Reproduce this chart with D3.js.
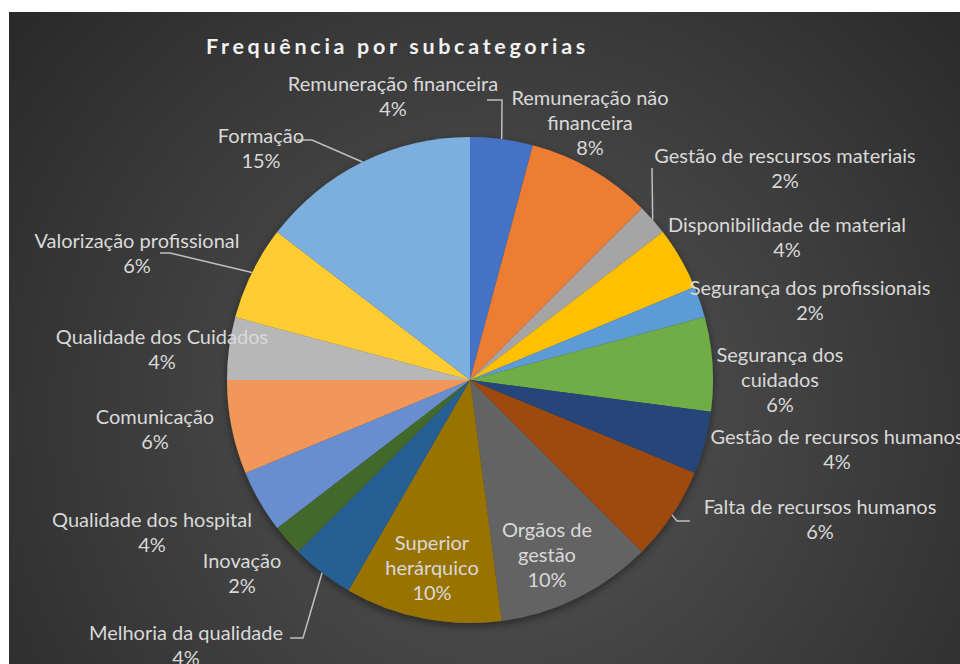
<!DOCTYPE html>
<html>
<head>
<meta charset="utf-8">
<script src="https://cdn.jsdelivr.net/npm/d3@7"></script>
<style>
  body { margin: 0; background: #ffffff; }
  svg { display: block; }
</style>
</head>
<body>
<svg id="chart" width="960" height="664"></svg>
<script>
// Subcategories, clockwise from 12 o'clock
const categories = [
  "Remuneração financeira",
  "Remuneração não financeira",
  "Gestão de rescursos materiais",
  "Disponibilidade de material",
  "Segurança dos profissionais",
  "Segurança dos cuidados",
  "Gestão de recursos humanos",
  "Falta de recursos humanos",
  "Orgãos de gestão",
  "Superior herárquico",
  "Melhoria da qualidade",
  "Inovação",
  "Qualidade dos hospital",
  "Comunicação",
  "Qualidade dos Cuidados",
  "Valorização profissional",
  "Formação"
];

// Number of mentions per subcategory
const counts = [2, 4, 1, 2, 1, 3, 2, 3, 5, 5, 2, 1, 2, 3, 2, 3, 7];

// How each category name is broken over lines in its label
const labelLines = [
  ["Remuneração financeira"],
  ["Remuneração não", "financeira"],
  ["Gestão de rescursos materiais"],
  ["Disponibilidade de material"],
  ["Segurança dos profissionais"],
  ["Segurança dos", "cuidados"],
  ["Gestão de recursos humanos"],
  ["Falta de recursos humanos"],
  ["Orgãos de", "gestão"],
  ["Superior", "herárquico"],
  ["Melhoria da qualidade"],
  ["Inovação"],
  ["Qualidade dos hospital"],
  ["Comunicação"],
  ["Qualidade dos Cuidados"],
  ["Valorização profissional"],
  ["Formação"]
];

const sliceColors = [
  "#4472C4", "#ED7D31", "#A5A5A5", "#FFC000", "#5B9BD5", "#70AD47",
  "#264478", "#9E480E", "#636363", "#997300", "#255E91", "#43682B",
  "#698ED0", "#F1975A", "#B7B7B7", "#FFCD33", "#7CAFDD"
];

const chartTitle = "Frequência por subcategorias";

// ---- layout ----
const W = 960, H = 664;
const cx = 470, cy = 380, R = 243;

// centre of each label block, relative to the pie centre
const labelOffsets = [
  [-77, -284], [120, -257], [315, -212], [317, -142.5], [340, -79.5],
  [310, 0], [367, 69.5], [350, 139.5], [77, 175], [-38, 188],
  [-284, 265.5], [-228, 193.5], [-318, 152.5], [-315, 49], [-308, -30.5],
  [-333, -126.5], [-209, -231.5]
];

// leader line bends (relative to pie centre); the line then runs to the slice edge
const leaderBends = {
  0: [[32, -280], [17, -280]],
  2: [[182, -212]],
  7: [[207, 141], [220, 141]],
  10: [[-167, 258], [-180, 258]],
  15: [[-300, -127], [-310, -127]],
  16: [[-158, -240], [-173, -240]]
};

const lineH = 25;
const fontFamily = "Lato, 'Open Sans', sans-serif";

const svg = d3.select("#chart");
const defs = svg.append("defs");

const bg = defs.append("radialGradient")
  .attr("id", "bgGrad")
  .attr("gradientUnits", "userSpaceOnUse")
  .attr("cx", 500).attr("cy", 420).attr("r", 620);
bg.append("stop").attr("offset", "0%").attr("stop-color", "#565656");
bg.append("stop").attr("offset", "100%").attr("stop-color", "#2a2a2a");

const shadow = defs.append("filter")
  .attr("id", "pieShadow")
  .attr("x", "-20%").attr("y", "-20%").attr("width", "140%").attr("height", "140%");
shadow.append("feDropShadow")
  .attr("dx", 0).attr("dy", 3).attr("stdDeviation", 4)
  .attr("flood-color", "#000").attr("flood-opacity", 0.45);

// chart area background
svg.append("rect")
  .attr("x", 9).attr("y", 12)
  .attr("width", W - 9).attr("height", H - 12)
  .attr("fill", "url(#bgGrad)");

// title
svg.append("text")
  .attr("x", 206).attr("y", 54)
  .attr("font-family", fontFamily)
  .attr("font-weight", "bold")
  .attr("font-size", 21.5)
  .attr("letter-spacing", 3.7)
  .attr("fill", "#f2f2f2")
  .text(chartTitle);

const total = d3.sum(counts);
const fmtPct = d3.format(".0%");

const pie = d3.pie().sort(null).value(d => d)(counts);
const arc = d3.arc().innerRadius(0).outerRadius(R);

const g = svg.append("g").attr("transform", `translate(${cx},${cy})`);

g.append("g")
  .attr("filter", "url(#pieShadow)")
  .selectAll("path")
  .data(pie)
  .join("path")
  .attr("d", arc)
  .attr("fill", (d, i) => sliceColors[i]);

// leader lines
const edgePoint = d => {
  const a = (d.startAngle + d.endAngle) / 2;
  return [R * Math.sin(a), -R * Math.cos(a)];
};
Object.entries(leaderBends).forEach(([k, bends]) => {
  const i = +k;
  const pts = [edgePoint(pie[i]), ...bends];
  g.append("path")
    .attr("d", d3.line()(pts))
    .attr("fill", "none")
    .attr("stroke", "#bfbfbf")
    .attr("stroke-width", 1.5);
});

// data labels
const labels = g.append("g")
  .attr("font-family", fontFamily)
  .attr("font-size", 20)
  .attr("fill", "#d9d9d9")
  .attr("text-anchor", "middle");

pie.forEach((d, i) => {
  const lines = labelLines[i].concat([fmtPct(counts[i] / total)]);
  const [ox, oy] = labelOffsets[i];
  const top = oy - (lines.length - 1) * lineH / 2;
  const t = labels.append("text").attr("x", ox);
  lines.forEach((ln, j) => {
    t.append("tspan")
      .attr("x", ox)
      .attr("y", top + j * lineH)
      .attr("dy", "0.35em")
      .text(ln);
  });
});
</script>
</body>
</html>
